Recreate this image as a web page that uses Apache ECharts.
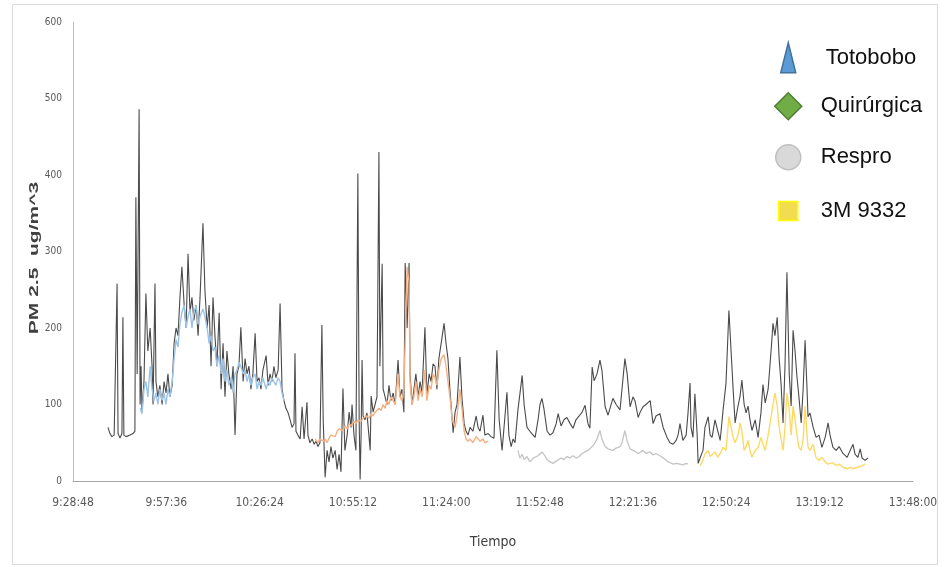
<!DOCTYPE html>
<html><head><meta charset="utf-8">
<script src="https://cdn.jsdelivr.net/npm/echarts@6/dist/echarts.min.js"></script>
<style>html,body{margin:0;padding:0;background:#fff}#c{width:945px;height:567px}</style>
</head><body><div id="c"></div>
<script>
// time in minutes after 9:28:48, PM2.5 value in ug/m^3
const ambient = [[10.8,70],[11.4,62],[12.0,58],[12.7,60],[13.3,60],[13.6,258],[13.9,62],[14.5,56],[15.1,62],[15.4,214],[15.7,60],[16.4,58],[17.0,60],[17.6,60],[18.5,62],[19.1,65],[19.4,371],[19.8,140],[20.4,486],[20.7,100],[21.0,150],[21.3,90],[21.9,130],[22.5,245],[23.1,170],[23.8,200],[24.4,150],[24.7,100],[25.3,258],[25.6,130],[26.2,110],[26.8,125],[27.5,100],[28.1,130],[28.7,115],[29.3,140],[29.9,110],[30.6,125],[31.2,180],[31.8,200],[32.4,190],[33.0,240],[33.6,280],[34.3,230],[34.9,200],[35.5,297],[36.1,220],[36.7,240],[37.3,210],[38.0,230],[38.6,190],[39.2,240],[40.1,337],[40.7,250],[41.4,200],[42.0,230],[42.6,150],[43.2,240],[43.8,190],[44.4,150],[45.1,220],[45.7,120],[46.3,180],[46.9,110],[47.5,170],[48.1,140],[48.8,120],[49.4,150],[50.0,60],[50.6,140],[51.2,150],[51.8,201],[52.5,130],[53.1,160],[53.7,140],[54.3,150],[54.9,120],[55.5,140],[56.2,193],[56.8,130],[57.4,135],[58.0,120],[58.6,145],[59.6,164],[60.2,125],[60.8,140],[61.4,130],[62.0,150],[62.6,135],[63.3,145],[63.9,232],[64.5,120],[65.1,105],[65.7,95],[66.3,90],[67.0,80],[67.6,70],[68.2,75],[68.5,167],[68.8,65],[69.4,60],[70.1,55],[70.7,97],[71.3,55],[72.2,103],[72.5,60],[73.1,50],[73.8,55],[74.4,48],[75.0,52],[75.6,45],[76.2,50],[76.8,204],[77.2,80],[77.8,5],[78.4,40],[79.0,25],[79.6,45],[80.2,30],[80.9,40],[81.5,15],[82.1,35],[82.7,12],[83.3,121],[83.9,40],[84.6,60],[85.2,90],[85.8,70],[86.1,100],[86.7,60],[87.3,40],[87.9,402],[88.3,80],[88.6,2],[88.9,60],[89.2,158],[89.5,85],[90.1,80],[90.7,89],[91.3,60],[91.7,40],[92.0,111],[92.6,90],[93.2,100],[93.8,110],[94.4,430],[94.7,150],[95.4,284],[95.7,120],[96.3,110],[96.9,100],[97.5,125],[98.1,105],[98.8,115],[99.4,100],[100.3,158],[100.9,110],[101.5,120],[102.1,90],[102.5,285],[103.1,200],[103.7,285],[104.0,140],[104.6,100],[105.2,120],[105.8,140],[106.5,110],[107.1,130],[107.7,115],[108.6,201],[109.2,112],[109.9,140],[110.5,130],[111.1,153],[111.7,150],[112.3,120],[112.9,160],[113.6,180],[114.5,206],[115.1,180],[115.7,160],[116.3,120],[117.0,80],[117.3,63],[117.9,90],[118.5,100],[119.4,162],[120.0,110],[120.7,75],[121.3,65],[121.9,60],[122.5,70],[123.4,65],[124.4,85],[125.0,70],[125.6,65],[126.5,86],[127.1,60],[128.1,62],[129.0,58],[129.9,56],[130.8,171],[131.5,80],[132.4,40],[133.0,70],[133.9,116],[134.5,60],[135.2,45],[135.8,55],[136.4,50],[137.3,93],[137.9,93],[138.6,138],[139.2,100],[140.1,70],[141.0,65],[142.0,60],[142.6,57],[143.5,80],[144.1,100],[144.7,108],[145.3,95],[146.3,65],[147.2,60],[148.1,63],[149.1,75],[149.7,88],[150.6,72],[151.5,80],[152.4,83],[153.4,75],[154.3,69],[155.2,80],[156.2,85],[157.1,90],[158.0,99],[158.9,75],[159.5,69],[160.2,149],[160.8,131],[161.7,140],[162.6,158],[163.2,145],[164.2,97],[165.1,86],[165.7,95],[166.6,108],[167.6,100],[168.8,93],[169.4,120],[170.3,160],[171.0,140],[171.9,97],[172.8,110],[173.4,105],[174.4,83],[175.0,90],[175.9,97],[176.8,100],[178.1,105],[179.0,75],[179.9,85],[181.1,88],[182.1,70],[183.3,57],[184.2,50],[185.2,48],[186.1,53],[186.7,60],[187.3,75],[188.2,53],[189.2,60],[189.8,90],[190.4,128],[190.7,70],[191.3,57],[191.9,114],[192.6,60],[192.9,23],[193.5,30],[194.4,40],[195.0,70],[196.0,84],[196.6,60],[197.2,57],[198.1,80],[199.0,65],[199.7,53],[200.6,93],[201.5,128],[202.4,223],[203.1,167],[203.7,120],[204.3,76],[205.2,98],[205.8,110],[206.4,132],[207.1,100],[207.7,89],[208.3,98],[208.9,80],[209.5,66],[210.5,80],[211.4,57],[212.3,90],[212.9,126],[213.6,102],[214.5,120],[215.4,170],[216.0,206],[216.6,190],[217.3,214],[217.9,160],[218.5,126],[219.1,76],[219.7,150],[220.3,273],[221.0,140],[221.6,98],[222.2,197],[222.8,170],[223.4,136],[224.0,110],[224.7,76],[225.3,120],[225.9,184],[226.5,120],[226.8,84],[227.4,89],[228.4,70],[229.3,57],[230.2,60],[231.1,44],[232.1,57],[233.0,76],[233.6,60],[234.5,44],[235.5,40],[236.4,45],[237.6,36],[238.9,31],[239.8,40],[240.7,48],[241.3,35],[242.2,31],[242.9,42],[243.5,30],[244.4,27],[245.3,30]];
const totobobo = [[20.7,95],[21.3,88],[21.9,120],[22.5,130],[23.1,110],[23.8,150],[24.4,120],[25.0,105],[25.6,115],[26.2,100],[26.8,120],[27.5,105],[28.1,115],[28.7,100],[29.3,120],[29.9,110],[30.6,130],[31.2,160],[31.8,185],[32.4,175],[33.0,205],[33.6,220],[34.3,230],[34.9,200],[35.5,215],[36.1,225],[36.7,200],[37.3,220],[38.0,230],[38.6,205],[39.2,215],[40.1,225],[40.7,215],[41.4,200],[42.0,180],[42.6,190],[43.2,170],[43.8,175],[44.4,150],[45.1,165],[45.7,140],[46.3,160],[46.9,130],[47.5,145],[48.1,125],[48.8,135],[49.4,115],[50.0,140],[50.6,145],[51.2,155],[51.8,150],[52.5,140],[53.1,145],[53.7,130],[54.3,140],[54.9,125],[55.5,135],[56.2,140],[56.8,120],[57.4,130],[58.0,125],[58.6,135],[59.6,120],[60.2,130],[60.8,125],[61.4,135],[62.0,130],[62.6,125],[63.3,135],[63.9,130],[64.5,115],[65.1,105]];
const quirurgica = [[74.7,55],[75.6,50],[76.2,55],[77.2,52],[77.8,55],[78.4,50],[79.0,56],[79.6,60],[80.2,62],[80.9,58],[81.5,65],[82.1,68],[82.7,70],[83.3,66],[83.9,72],[84.6,68],[85.2,75],[85.8,72],[86.7,78],[87.3,75],[87.9,80],[88.9,78],[89.5,82],[90.1,80],[90.7,85],[91.3,82],[92.0,88],[92.6,85],[93.2,90],[93.8,88],[94.4,95],[95.0,92],[95.7,100],[96.3,95],[96.9,105],[97.5,100],[98.1,110],[98.8,105],[99.4,100],[100.3,140],[100.9,110],[101.5,105],[102.1,120],[102.5,180],[103.1,280],[103.7,260],[104.0,130],[104.6,100],[105.2,110],[105.8,130],[106.5,105],[107.1,120],[107.7,110],[108.6,145],[109.2,105],[109.9,125],[110.5,120],[111.1,140],[111.7,135],[112.3,125],[112.9,145],[113.6,160],[114.5,165],[115.1,150],[115.7,130],[116.3,110],[117.0,80],[117.9,70],[118.5,85],[119.4,120],[120.0,95],[120.7,65],[121.3,55],[121.9,52],[122.5,55],[123.4,50],[124.4,58],[125.0,55],[125.6,52],[126.5,55],[127.1,50],[128.1,52]];
const respro = [[137.3,40],[137.9,30],[138.6,35],[139.2,28],[140.1,32],[141.0,25],[142.0,30],[142.6,28],[143.5,33],[144.1,35],[144.7,38],[145.3,35],[146.3,28],[147.2,25],[148.1,23],[149.1,26],[149.7,28],[150.6,30],[151.5,28],[152.4,32],[153.4,30],[154.3,33],[155.2,30],[156.2,32],[157.1,36],[158.0,38],[158.9,40],[159.5,42],[160.2,45],[160.8,48],[161.7,55],[162.6,66],[163.2,55],[164.2,45],[165.1,42],[165.7,44],[166.6,40],[167.6,43],[168.8,45],[169.4,50],[170.3,66],[171.0,52],[171.9,42],[172.8,40],[173.4,38],[174.4,36],[175.0,38],[175.9,40],[176.8,36],[178.1,38],[179.0,34],[179.9,36],[181.1,33],[182.1,30],[183.3,26],[184.2,24],[185.2,22],[186.1,23],[187.3,22],[188.2,21],[189.2,23],[189.8,22]];
const m3_9332 = [[193.5,20],[194.4,28],[195.0,35],[196.0,40],[196.6,32],[197.2,30],[198.1,38],[199.0,31],[199.7,36],[200.6,44],[201.5,40],[202.4,84],[203.1,70],[203.7,57],[204.3,50],[205.2,60],[205.8,76],[206.4,65],[207.1,40],[207.7,45],[208.3,53],[208.9,40],[209.5,31],[210.5,40],[211.4,44],[212.3,57],[212.9,48],[213.6,40],[214.5,60],[215.4,84],[216.0,100],[216.6,115],[217.3,98],[217.9,70],[218.5,55],[219.1,40],[219.7,70],[220.3,115],[221.0,93],[221.6,60],[222.2,98],[222.8,80],[223.4,60],[224.0,44],[224.7,40],[225.3,55],[225.9,98],[226.5,60],[226.8,45],[227.4,40],[228.4,48],[229.3,30],[230.2,27],[231.1,31],[232.1,25],[233.0,22],[234.5,24],[235.5,20],[236.4,22],[237.6,18],[238.9,16],[239.8,18],[240.7,16],[242.2,18],[243.5,20],[244.4,22]];
const legendNames = ['Totobobo','Quirúrgica','Respro','3M 9332'];
const yTitle = 'PM 2.5  ug/m^3';
const xTitle = 'Tiempo';

const START = 9*3600 + 28*60 + 48;
const toSec = arr => arr.map(p => [p[0]*60, p[1]]);
function fmt(v){ const s = Math.round(START + v); const h = Math.floor(s/3600), m = Math.floor(s%3600/60), ss = s%60;
  return h + ':' + String(m).padStart(2,'0') + ':' + String(ss).padStart(2,'0'); }

const chart = echarts.init(document.getElementById('c'), null, {renderer:'canvas'});
const narrow = "'Liberation Sans Narrow','DejaVu Sans Condensed',Arial,sans-serif";
const line = (name, data, color, width, z) => ({name, type:'line', data:toSec(data), showSymbol:false, symbol:'none',
  lineStyle:{color, width}, itemStyle:{color}, z, animation:false});
function leg(name, icon, w, h, left, top, fill, border, pad){
  return {data:[{name, icon, itemStyle:{color:fill, borderColor:border, borderWidth:1.5}}], orient:'vertical',
    left, top, itemWidth:w, itemHeight:h, padding:0, selectedMode:false,
    textStyle:{fontSize:22, color:'#111', fontFamily:'Liberation Sans, Arial, sans-serif', padding:[pad[1],0,0,pad[0]]}};
}
chart.setOption({
  backgroundColor:'#fff',
  animation:false,
  grid:{left:73, right:32, top:22, bottom:86, containLabel:false},
  xAxis:{type:'value', min:0, max:15552, interval:1728,
    axisLine:{show:true, lineStyle:{color:'#a6a6a6', width:1}}, axisTick:{show:false}, splitLine:{show:false},
    axisLabel:{formatter:fmt, fontSize:12, color:'#595959', fontFamily:narrow, margin:16},
    name:xTitle, nameLocation:'middle', nameGap:54, nameTextStyle:{fontSize:14, color:'#404040', fontFamily:narrow}},
  yAxis:{type:'value', min:0, max:600, interval:100,
    axisLine:{show:true, lineStyle:{color:'#bfbfbf', width:1}}, axisTick:{show:false}, splitLine:{show:false},
    axisLabel:{fontSize:10, color:'#595959', fontFamily:narrow, margin:11}},
  legend:[
    leg(legendNames[0], 'triangle', 15, 30, 780, 42, '#5b9bd5', '#41719c', [25,6]),
    leg(legendNames[1], 'diamond', 27, 27, 774, 92, '#70ad47', '#507e32', [14,0]),
    leg(legendNames[2], 'circle', 25, 25, 775, 144, '#d9d9d9', '#bfbfbf', [15,0]),
    leg(legendNames[3], 'rect', 19, 19, 778, 200, '#f2dc4f', '#ffff00', [18,0])
  ],
  graphic:[
    {type:'rect', shape:{x:12.5, y:4.5, width:925, height:560}, style:{fill:'none', stroke:'#d9d9d9', lineWidth:1}, silent:true, z:-10},
    {type:'text', x:35, y:258, rotation:Math.PI/2, scaleX:1.75,
      style:{text:yTitle, font:'bold 12px "Liberation Sans", Arial, sans-serif', fill:'#404040', align:'center', verticalAlign:'middle'}}
  ],
  series:[
    line('ambiente', ambient, '#4a4a4a', 1.1, 2),
    line(legendNames[0], totobobo, '#9dc3e6', 1.4, 3),
    line(legendNames[1], quirurgica, '#f4b183', 1.4, 3),
    line(legendNames[2], respro, '#c4c4c4', 1.3, 3),
    line(legendNames[3], m3_9332, '#ffd966', 1.4, 3)
  ]
});
</script></body></html>
